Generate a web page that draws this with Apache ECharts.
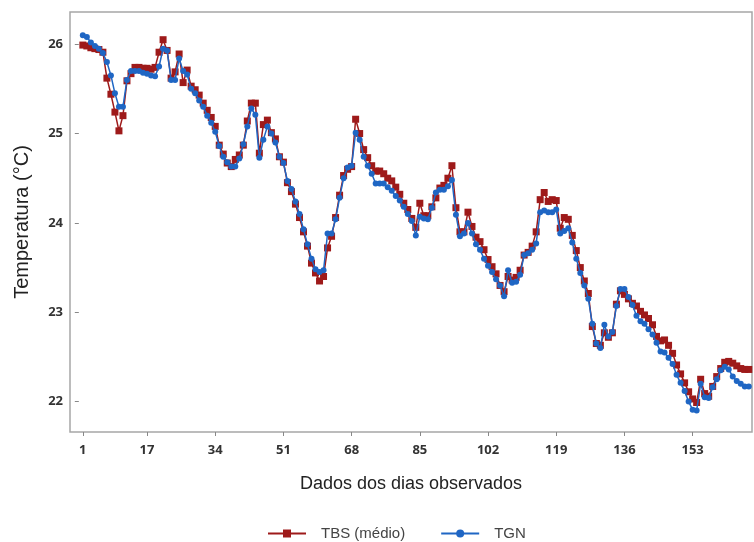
<!DOCTYPE html>
<html>
<head>
<meta charset="utf-8">
<script src="https://cdn.jsdelivr.net/npm/echarts@6/dist/echarts.min.js"></script>
<style>
html,body{margin:0;padding:0;background:#fff;}
#chart{width:754px;height:542px;}
</style>
</head>
<body>
<div id="chart"></div>
<script>
// Day index tick labels shown on the x axis
const xTicks = [1, 17, 34, 51, 68, 85, 102, 119, 136, 153];
const yTicks = [22, 23, 24, 25, 26];

// TBS (médio), days 1..167
const tbs = [
25.99,25.98,25.96,25.95,25.94,25.91,25.62,25.44,25.24,25.03,
25.20,25.59,25.67,25.74,25.74,25.73,25.73,25.72,25.74,25.91,
26.05,25.93,25.62,25.69,25.89,25.57,25.71,25.53,25.49,25.43,
25.34,25.26,25.18,25.08,24.87,24.77,24.67,24.63,24.71,24.76,
24.87,25.14,25.34,25.34,24.78,25.10,25.15,25.01,24.94,24.74,
24.68,24.45,24.35,24.21,24.06,23.90,23.74,23.55,23.44,23.35,
23.40,23.72,23.85,24.06,24.31,24.53,24.60,24.63,25.16,25.00,
24.82,24.73,24.64,24.58,24.58,24.55,24.50,24.47,24.40,24.32,
24.22,24.15,24.05,23.95,24.22,24.08,24.08,24.18,24.28,24.39,
24.42,24.50,24.64,24.17,23.90,23.90,24.12,23.96,23.84,23.79,
23.70,23.59,23.51,23.43,23.30,23.23,23.40,23.36,23.39,23.47,
23.64,23.67,23.74,23.90,24.26,24.34,24.24,24.26,24.25,23.94,
24.06,24.04,23.86,23.69,23.50,23.35,23.21,22.84,22.65,22.63,
22.77,22.72,22.77,23.09,23.24,23.20,23.15,23.10,23.07,23.01,
22.97,22.93,22.86,22.73,22.68,22.69,22.63,22.54,22.41,22.31,
22.21,22.11,22.03,21.99,22.25,22.09,22.06,22.17,22.28,22.37,
22.44,22.45,22.43,22.40,22.37,22.36,22.36
];

// TGN, days 1..167
const tgn = [
26.10,26.08,26.02,25.98,25.95,25.90,25.80,25.65,25.45,25.30,
25.30,25.60,25.70,25.70,25.70,25.68,25.67,25.65,25.64,25.75,
25.95,25.93,25.60,25.60,25.84,25.70,25.66,25.50,25.45,25.37,
25.30,25.20,25.12,25.02,24.86,24.74,24.68,24.63,24.63,24.72,
24.88,25.08,25.28,25.21,24.73,24.93,25.08,25.00,24.90,24.74,
24.67,24.47,24.38,24.24,24.10,23.93,23.76,23.60,23.48,23.45,
23.47,23.88,23.88,24.04,24.28,24.50,24.62,24.64,25.01,24.93,
24.74,24.64,24.55,24.44,24.44,24.44,24.40,24.36,24.30,24.25,
24.18,24.10,24.02,23.86,24.07,24.05,24.04,24.17,24.34,24.37,
24.37,24.41,24.48,24.09,23.85,23.88,24.00,23.88,23.76,23.70,
23.60,23.52,23.45,23.37,23.30,23.18,23.47,23.33,23.34,23.42,
23.64,23.66,23.70,23.77,24.12,24.14,24.12,24.12,24.15,23.88,
23.91,23.94,23.78,23.60,23.44,23.30,23.15,22.87,22.65,22.60,
22.86,22.73,22.78,23.07,23.26,23.26,23.17,23.08,22.96,22.90,
22.87,22.81,22.75,22.66,22.56,22.55,22.49,22.42,22.30,22.21,
22.12,22.00,21.91,21.90,22.20,22.05,22.04,22.16,22.25,22.35,
22.39,22.36,22.28,22.23,22.20,22.17,22.17
];

const RED = '#9e1a1a';
const BLUE = '#1f66c4';
const AXIS = '#a6a6a6';
const TICKFONT = '"Open Sans", sans-serif';

const chart = echarts.init(document.getElementById('chart'), null, {renderer: 'canvas'});
chart.setOption({
  animation: false,
  backgroundColor: '#ffffff',
  grid: {
    left: 70, right: 2, top: 12, bottom: 110,
    show: true, borderColor: AXIS, borderWidth: 1.5, backgroundColor: 'transparent'
  },
  xAxis: {
    type: 'value',
    min: -2.2, max: 167.8,
    name: 'Dados dos dias observados',
    nameLocation: 'middle', nameGap: 43,
    nameTextStyle: {fontFamily: 'Liberation Sans', fontSize: 18, color: '#222'},
    axisLine: {show: false},
    axisTick: {show: true, customValues: xTicks, length: 4, lineStyle: {color: '#888'}},
    axisLabel: {customValues: xTicks, fontFamily: TICKFONT, fontWeight: 'bold', fontSize: 13, color: '#333', margin: 12},
    splitLine: {show: false}
  },
  yAxis: {
    type: 'value',
    min: 21.66, max: 26.36,
    name: 'Temperatura (°C)',
    nameLocation: 'middle', nameGap: 38,
    nameTextStyle: {fontFamily: 'Liberation Sans', fontSize: 20, color: '#222'},
    axisLine: {show: false},
    axisTick: {show: true, customValues: yTicks, length: 4, lineStyle: {color: '#888'}},
    axisLabel: {customValues: yTicks, fontFamily: TICKFONT, fontWeight: 'bold', fontSize: 13, color: '#333', margin: 7},
    splitLine: {show: false}
  },
  legend: {
    top: 521,
    left: 262,
    itemGap: 35,
    itemWidth: 38,
    itemHeight: 10,
    textStyle: {fontFamily: 'Liberation Sans', fontSize: 15, color: '#444', padding: [0, 0, 0, 10]},
    data: ['TBS (médio)', 'TGN']
  },
  series: [
    {
      name: 'TBS (médio)', type: 'line',
      data: tbs.map((v, i) => [i + 1, v]),
      symbol: 'rect', symbolSize: 7,
      lineStyle: {color: RED, width: 1.5},
      itemStyle: {color: RED},
      z: 2
    },
    {
      name: 'TGN', type: 'line',
      data: tgn.map((v, i) => [i + 1, v]),
      symbol: 'circle', symbolSize: 6,
      lineStyle: {color: BLUE, width: 1.5},
      itemStyle: {color: BLUE},
      z: 3
    }
  ]
});
</script>
</body>
</html>
